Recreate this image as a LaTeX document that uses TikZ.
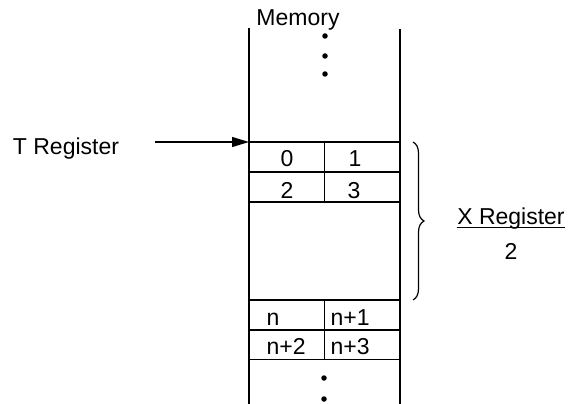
\documentclass[tikz,border=0pt]{standalone}
\usepackage{fontspec}
\setmainfont{Liberation Sans}
\usetikzlibrary{arrows.meta,decorations.pathreplacing,calc}
\begin{document}
\begin{tikzpicture}[x=1pt,y=-1pt,
  line width=1.2pt,
  txt/.style={inner sep=0pt,font=\fontsize{23}{27}\selectfont,anchor=base},
  cell/.style={draw,minimum width=75.5pt,minimum height=30pt,inner sep=0pt,outer sep=0pt,line width=1.2pt},
  blank/.style={draw,minimum width=151pt,minimum height=98pt,inner sep=0pt,outer sep=0pt},
  dot/.style={circle,fill,inner sep=0pt,minimum size=5.5pt}]
\useasboundingbox (0,0) rectangle (574,404);
% memory column walls
\draw (249,28) -- (249,404);
\draw (400,29) -- (400,404);
\node[txt] (mem) at (298,26) {Memory};
\node[dot] (d1) at (325,36) {};
\node[dot] (d2) at (325,56) {};
\node[dot] (d3) at (325,74) {};
% cells
\node[cell] (c0) at (286.75,157) {};
\node[cell] (c1) at (362.25,157) {};
\node[cell] (c2) at (286.75,187) {};
\node[cell] (c3) at (362.25,187) {};
\node[blank] (gap) at (324.5,251) {};
\node[cell] (cn0) at (286.75,315) {};
\node[cell] (cn1) at (362.25,315) {};
\node[cell] (cn2) at (286.75,344.5) {};
\node[cell] (cn3) at (362.25,344.5) {};
\node[txt] (t0) at (287,167) {0};
\node[txt] (t1) at (355,167) {1};
\node[txt] (t2) at (287,198) {2};
\node[txt] (t3) at (354,198) {3};
\node[txt,anchor=base west] (tn0) at (266,325) {n};
\node[txt,anchor=base west] (tn1) at (330,325) {n+1};
\node[txt,anchor=base west] (tn2) at (266,354) {n+2};
\node[txt,anchor=base west] (tn3) at (330,354) {n+3};
\node[dot] (d4) at (324,378) {};
\node[dot] (d5) at (324,399) {};
% T register
\node[txt] (treg) at (66,155) {T Register};
\coordinate (tstart) at (155,142);
\draw[-{Triangle[length=17pt,width=10pt]}] (tstart) -- (c0.north west);
% brace
\draw[decorate,decoration={brace,amplitude=11pt}]
  ($(c1.north east)+(13,0)$) -- ($(cn1.north east)+(13,0)$);
\node[txt] (xreg) at (511,224) {X Register};
\draw[line width=1pt] ($(xreg.base west)+(0,3)$) -- ($(xreg.base east)+(0,3)$);
\node[txt] (two) at (511,259) {2};
\end{tikzpicture}
\end{document}
